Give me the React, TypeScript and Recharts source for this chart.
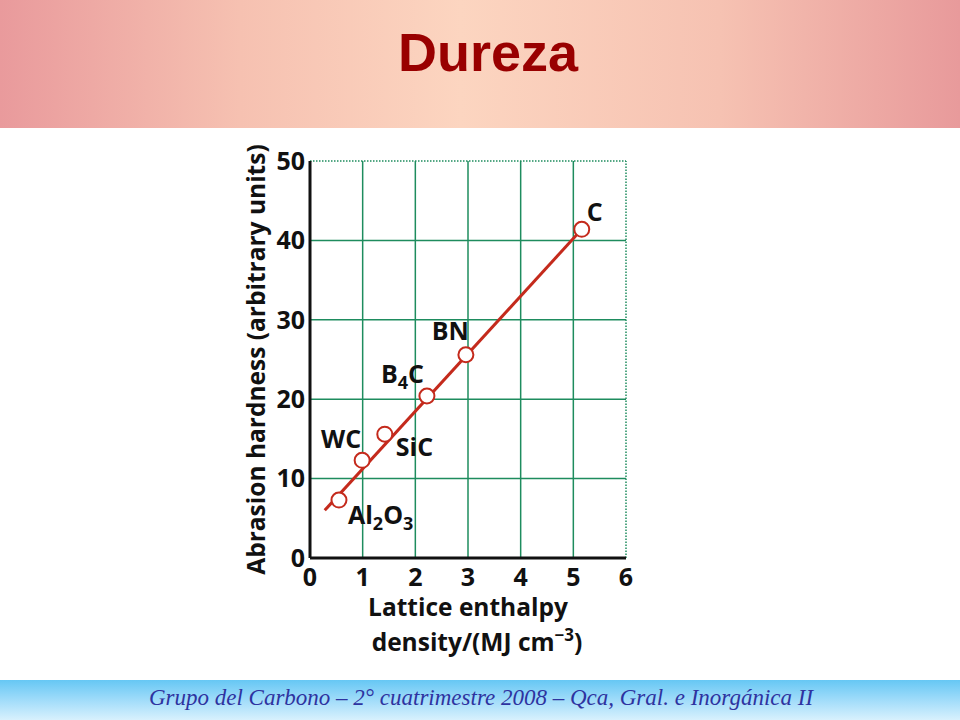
import { ScatterChart, Scatter, XAxis, YAxis, CartesianGrid, ReferenceLine, Label } from "recharts";

const compounds = ["Al2O3", "WC", "SiC", "B4C", "BN", "C"];
const enthalpyDensity = [0.55, 0.99, 1.42, 2.22, 2.96, 5.16];
const hardness = [7.3, 12.3, 15.6, 20.4, 25.6, 41.4];
const fitX = [0.28, 5.16];
const fitY = [6.0, 41.4];
const xTicks = [0, 1, 2, 3, 4, 5, 6];
const yTicks = [0, 10, 20, 30, 40, 50];

const points = compounds.map((name, i) => ({ name, x: enthalpyDensity[i], y: hardness[i] }));
const fitLine = fitX.map((x, i) => ({ x, y: fitY[i] }));

const RED = "#c42a1c";
const GREEN = "#1e8c5e";
const FONT = "'Open Sans', 'DejaVu Sans', sans-serif";

// where each compound name sits relative to its marker
const placement: Record<string, { dx: number; dy: number; anchor: "start" | "end" }> = {
  Al2O3: { dx: 9, dy: 24, anchor: "start" },
  WC: { dx: -1, dy: -12, anchor: "end" },
  SiC: { dx: 11, dy: 22, anchor: "start" },
  B4C: { dx: -3, dy: -13, anchor: "end" },
  BN: { dx: 3, dy: -15, anchor: "end" },
  C: { dx: 5, dy: -8, anchor: "start" },
};

function Formula({ name }: { name: string }) {
  const parts = name.split(/(\d)/).filter(Boolean);
  let sub = false;
  return (
    <>
      {parts.map((p, i) => {
        const isNum = /\d/.test(p);
        const dy = isNum && !sub ? 6 : !isNum && sub ? -6 : 0;
        sub = isNum;
        return (
          <tspan key={i} dy={dy} fontSize={isNum ? 18 : 25}>
            {p}
          </tspan>
        );
      })}
    </>
  );
}

function PointShape(props: any) {
  const { cx, cy, payload } = props;
  const p = placement[payload.name];
  return (
    <g>
      <circle cx={cx} cy={cy} r={7.5} fill="#fff" stroke={RED} strokeWidth={2} />
      <text
        x={cx + p.dx}
        y={cy + p.dy}
        textAnchor={p.anchor}
        fontFamily={FONT}
        fontWeight={700}
        fontSize={25}
        fill="#111"
      >
        <Formula name={payload.name} />
      </text>
    </g>
  );
}

export default function App() {
  const tickStyle = { fontFamily: FONT, fontWeight: 700, fontSize: 25, fill: "#111" };
  return (
    <div
      style={{
        position: "fixed",
        left: 0,
        top: 0,
        width: 960,
        height: 720,
        background: "#fff",
        overflow: "hidden",
      }}
    >
      <div
        style={{
          position: "absolute",
          left: 0,
          top: 0,
          width: 960,
          height: 128,
          background: "linear-gradient(to right, #e99a9c 0%, #f6c1b1 25%, #fcd5c0 48%, #f6c2b2 75%, #e89a9b 100%)",
        }}
      />
      <div
        style={{
          position: "absolute",
          left: 0,
          top: 21,
          width: 976,
          textAlign: "center",
          fontFamily: "'Liberation Sans', Arial, sans-serif",
          fontWeight: 700,
          fontSize: 54,
          color: "#990000",
        }}
      >
        Dureza
      </div>
      <div
        style={{
          position: "absolute",
          left: 0,
          top: 680,
          width: 960,
          height: 40,
          background: "linear-gradient(to bottom, #66c7f4 0%, #a6defa 55%, #d8f1fd 100%)",
        }}
      />
      <div
        style={{
          position: "absolute",
          left: 0,
          top: 685,
          width: 962,
          textAlign: "center",
          fontFamily: "'Liberation Serif', 'DejaVu Serif', serif",
          fontStyle: "italic",
          fontSize: 23,
          color: "#2e33a0",
        }}
      >
        Grupo del Carbono – 2° cuatrimestre 2008 – Qca, Gral. e Inorgánica II
      </div>
      <div style={{ position: "absolute", left: 230, top: 140 }}>
        <ScatterChart width={420} height={540} margin={{ top: 21, right: 24, bottom: 92, left: 40 }}>
          <CartesianGrid
            stroke={GREEN}
            strokeWidth={1.5}
            horizontalValues={[10, 20, 30, 40]}
            verticalValues={[1, 2, 3, 4, 5]}
          />
          <ReferenceLine y={50} stroke={GREEN} strokeWidth={1.5} strokeDasharray="1.5 1.5" />
          <ReferenceLine x={6} stroke={GREEN} strokeWidth={1.5} strokeDasharray="1.5 1.5" />
          <XAxis
            type="number"
            dataKey="x"
            domain={[0, 6]}
            ticks={xTicks}
            interval={0}
            axisLine={{ stroke: "#111", strokeWidth: 3 }}
            tickLine={false}
            tickSize={0}
            tickMargin={10}
            tick={tickStyle}
            height={30}
          >
            <Label
              content={({ viewBox }: any) => (
                <text textAnchor="middle" fontFamily={FONT} fontWeight={700} fontSize={24.5} fill="#111">
                  <tspan x={viewBox.x + viewBox.width / 2} y={viewBox.y + 58}>
                    Lattice enthalpy
                  </tspan>
                  <tspan x={viewBox.x + viewBox.width / 2 + 9} y={viewBox.y + 93}>
                    density/(MJ cm
                    <tspan dy={-10} fontSize={17}>
                      −3
                    </tspan>
                    <tspan dy={10}>)</tspan>
                  </tspan>
                </text>
              )}
            />
          </XAxis>
          <YAxis
            type="number"
            dataKey="y"
            domain={[0, 50]}
            ticks={yTicks}
            interval={0}
            axisLine={{ stroke: "#111", strokeWidth: 3 }}
            tickLine={false}
            tickSize={0}
            tickMargin={5}
            tick={tickStyle}
            width={40}
          >
            <Label
              content={({ viewBox }: any) => (
                <text
                  x={viewBox.x - 15}
                  y={viewBox.y + viewBox.height / 2}
                  transform={`rotate(-90 ${viewBox.x - 15} ${viewBox.y + viewBox.height / 2})`}
                  textAnchor="middle"
                  dominantBaseline="central"
                  fontFamily={FONT}
                  fontWeight={700}
                  fontSize={24.5}
                  fill="#111"
                >
                  Abrasion hardness (arbitrary units)
                </text>
              )}
            />
          </YAxis>
          <Scatter
            data={fitLine}
            line={{ stroke: RED, strokeWidth: 3 }}
            shape={() => <g />}
            isAnimationActive={false}
          />
          <Scatter data={points} shape={PointShape} isAnimationActive={false} />
        </ScatterChart>
      </div>
    </div>
  );
}
